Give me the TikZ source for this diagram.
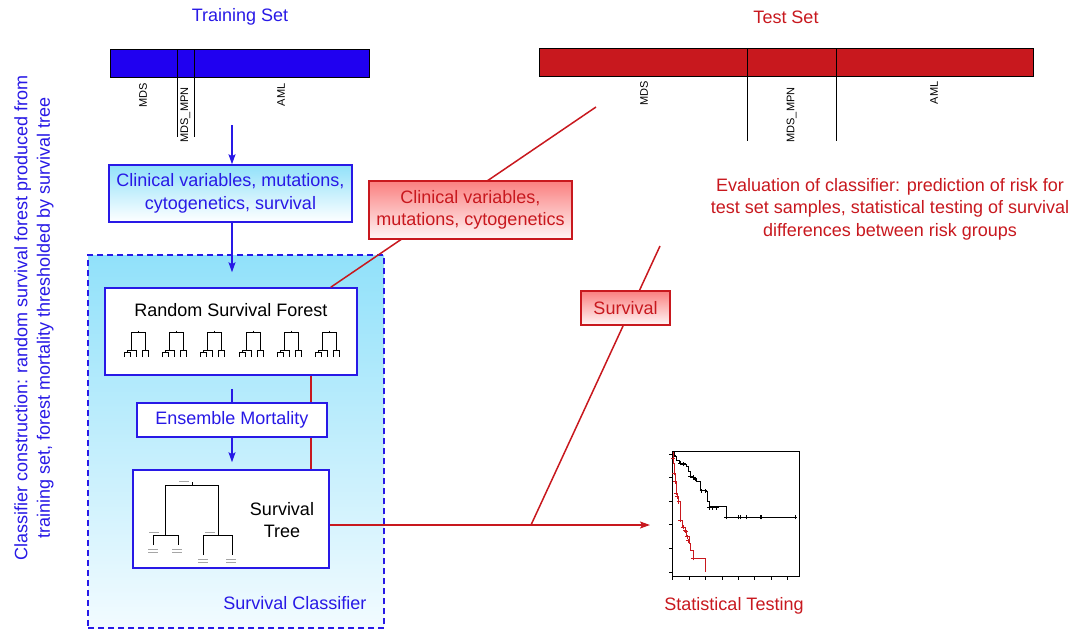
\documentclass[tikz,border=0pt]{standalone}
\usepackage{fontspec}
\setmainfont{Liberation Sans}
\usetikzlibrary{arrows.meta}

\definecolor{barblue}{RGB}{32,0,240}
\definecolor{txtblue}{RGB}{40,25,230}
\definecolor{testred}{RGB}{200,24,30}
\definecolor{skytop}{RGB}{145,225,250}
\definecolor{skybot}{RGB}{242,251,255}
\definecolor{pinktop}{RGB}{250,128,128}
\definecolor{pinkbot}{RGB}{255,246,246}

\tikzset{
  bigtext/.style={font=\fontsize{18}{22.5}\selectfont},
  barlabel/.style={font=\fontsize{11}{13}\selectfont, rotate=90},
  bluebox/.style={draw=txtblue, line width=1.5pt, inner sep=0pt, align=center, bigtext},
  redbox/.style={draw=testred, line width=1.4pt, inner sep=0pt, align=center, bigtext,
    top color=pinktop, bottom color=pinkbot, text=testred},
  bluearrow/.style={draw=txtblue, line width=1.5pt, -{Stealth[length=10pt,width=7pt,inset=2pt]}},
  redline/.style={draw=testred, line width=1.5pt},
  redarrow/.style={redline, -{Stealth[length=10pt,width=7pt,inset=2pt]}},
  minitree/.pic={
    \draw[line width=0.7pt] (0pt,1.5pt) -- (0pt,0pt);
    \draw[line width=0.7pt] (-7pt,-18pt) -- (-7pt,0pt) -- (7pt,0pt) -- (7pt,-18pt);
    \draw[line width=0.7pt] (-11pt,-20pt) -- (-11pt,-18pt) -- (-2pt,-18pt) -- (-2pt,-25pt);
    \draw[line width=0.7pt] (-14pt,-25pt) -- (-14pt,-20pt) -- (-8pt,-20pt) -- (-8pt,-25pt);
    \draw[line width=0.7pt] (4pt,-25pt) -- (4pt,-18pt) -- (10pt,-18pt) -- (10pt,-25pt);
  },
  censor/.style={line width=0.7pt}
}

\begin{document}
\begin{tikzpicture}
    \useasboundingbox (0pt,0pt) rectangle (1077pt,-629pt);

    % classifier frame
    \node[draw=txtblue, dashed, line width=1.4pt, dash pattern=on 6pt off 4pt,
          top color=skytop, bottom color=skybot,
          minimum width=296pt, minimum height=373pt] (classifier) at (236pt,-441.5pt) {};
    \node[bigtext, text=txtblue] (classlabel) at (295pt,-603pt) {Survival Classifier};

    % training set
    \node[bigtext, text=txtblue] (traintitle) at (240pt,-17pt) {Training Set};
    \node[draw=black, line width=0.8pt, fill=barblue, minimum width=259pt, minimum height=28pt] (trainbar) at (239.5pt,-63pt) {};
    \draw[line width=0.8pt] (177pt,-49pt) -- (177pt,-137pt);
    \draw[line width=0.8pt] (194pt,-49pt) -- (194pt,-137pt);
    \node[barlabel] (trainmds) at (143pt,-95pt) {MDS};
    \node[barlabel] (trainmpn) at (185.5pt,-115pt) {MDS\_MPN};
    \node[barlabel] (trainaml) at (281pt,-95pt) {AML};

    % test set
    \node[bigtext, text=testred] (testtitle) at (786pt,-17pt) {Test Set};
    \node[draw=black, line width=0.8pt, fill=testred, minimum width=494pt, minimum height=28pt] (testbar) at (786pt,-62pt) {};
    \draw[line width=0.8pt] (747pt,-48pt) -- (747pt,-141pt);
    \draw[line width=0.8pt] (836pt,-48pt) -- (836pt,-141pt);
    \node[barlabel] (testmds) at (644pt,-93pt) {MDS};
    \node[barlabel] (testmpn) at (791.5pt,-115pt) {MDS\_MPN};
    \node[barlabel] (testaml) at (934pt,-93pt) {AML};

    % training input
    \coordinate (trainout) at (232pt,-125pt);
    \node[bluebox, top color=skytop, bottom color=white, text=txtblue,
          minimum width=243pt, minimum height=57pt] (clin) at (230.5pt,-193.5pt)
          {Clinical variables, mutations,\\cytogenetics, survival};
    \draw[bluearrow] (trainout) -- (clin.north -| trainout);

    % forest and tree
    \node[bluebox, fill=white, minimum width=252pt, minimum height=87pt] (rsf) at (231pt,-331.5pt) {};
    \node[bigtext] (rsftext) at (231pt,-310pt) {Random Survival Forest};
    \foreach \tx in {138,176.3,214.6,252.9,291.2,329.5}
        \pic at (\tx pt,-332pt) {minitree};
    \draw[bluearrow, shorten >=15pt] (clin.south -| trainout) -- (rsf.north -| trainout);
    \node[bluebox, fill=white, minimum width=196pt, minimum height=98pt] (tree) at (231pt,-519pt) {};

    % red input lines (under the boxes)
    \coordinate (testout) at (596pt,-107pt);
    \draw[redline] (testout) -- ([xshift=-27pt]rsf.north east);
    \draw[redline] ([xshift=-47pt]rsf.south east) -- ([xshift=-47pt]rsf.south east |- tree.north);
    \node[redbox, minimum width=203pt, minimum height=58pt] (redclin) at (470.5pt,-210pt)
          {Clinical variables,\\mutations, cytogenetics};

    % ensemble mortality
    \node[bluebox, fill=white, text=txtblue, minimum width=190pt, minimum height=34pt] (ens) at (232pt,-420pt) {Ensemble Mortality};
    \draw[draw=txtblue, line width=1.5pt, shorten <=13pt] (rsf.south -| ens.north) -- (ens.north);
    \draw[bluearrow, shorten >=7pt] (ens.south) -- (ens.south |- tree.north);

    % survival tree contents
    \node[bigtext, align=center] (treetext) at (282pt,-520pt) {Survival\\Tree};
    \draw[line width=1pt] (192pt,-482pt) -- (192pt,-485pt);
    \draw[line width=1pt] (165pt,-535pt) -- (165pt,-485pt) -- (218pt,-485pt) -- (218pt,-535pt);
    \draw[line width=1pt] (153pt,-545pt) -- (153pt,-535pt) -- (178pt,-535pt) -- (178pt,-545pt);
    \draw[line width=1pt] (203pt,-555pt) -- (203pt,-535pt) -- (232pt,-535pt) -- (232pt,-555pt);
    \foreach \lx/\ly in {179/-481, 149/-532, 205/-532, 148/-549, 148/-552, 172/-549, 172/-552, 198/-559, 198/-562, 226/-559, 226/-562}
        \draw[gray!70, line width=0.6pt] (\lx pt,\ly pt) -- ++(10pt,0pt);

    % test evaluation
    \coordinate (kmin) at (650pt,-525pt);
    \coordinate (evalout) at (660pt,-246pt);
    \coordinate (join) at (531pt,-525pt);
    \draw[redarrow] ([yshift=-6pt]tree.east) -- (kmin);
    \draw[redline] (evalout) -- (join);
    \node[redbox, minimum width=89pt, minimum height=34pt] (surv) at (625.5pt,-308pt) {Survival};
    \node[bigtext, text=testred, align=center] (evaltext) at (890pt,-209pt)
          {Evaluation of classifier: prediction of risk for\\test set samples, statistical testing of survival\\differences between risk groups};

    % Kaplan-Meier plot
    \node[draw=black, line width=0.8pt, minimum width=126.3pt, minimum height=125pt, inner sep=0pt] (km) at (735.85pt,-514.2pt) {};
    \foreach \ty in {-454,-477.7,-501,-524.3,-548.3,-572}
        \draw[line width=0.7pt] (669pt,\ty pt) -- (672.7pt,\ty pt);
    \foreach \tx in {672.7,689.3,705.7,722,738.3,754.7,771,787.3}
        \draw[line width=0.7pt] (\tx pt,-576.7pt) -- (\tx pt,-580pt);
    \draw[line width=0.9pt] (672.7pt,-452.7pt) -| (674pt,-456pt) -| (676pt,-458.3pt) -| (676.7pt,-460.7pt)
        -| (679.3pt,-463.3pt) -| (685pt,-464pt) -| (686.7pt,-466.7pt) -| (688.3pt,-471.7pt)
        -| (690pt,-476pt) -| (693.3pt,-478.3pt) -| (696pt,-481.7pt) -| (700pt,-490pt)
        -| (706pt,-491.7pt) -| (707.3pt,-501.7pt) -| (709.3pt,-506.7pt) -| (726pt,-517.3pt) -- (795pt,-517.3pt);
    \foreach \cx/\cy in {674/-455, 680/-463.3, 683.3/-464, 690/-476, 693.3/-477.3, 695/-479.3, 701.7/-490.7, 705/-490.7,
                         709.3/-507.7, 712.7/-507.7, 716.7/-507.7, 726/-517.3, 738.3/-517.3, 740/-517.3, 746.7/-517.3,
                         760/-517.3, 761.7/-517.3, 795/-517.3}
        \draw[censor] (\cx pt,\cy pt) +(-2pt,0pt) -- +(2pt,0pt) +(0pt,-2pt) -- +(0pt,2pt);
    \draw[testred, line width=0.9pt] (672.7pt,-452.7pt) -| (673.3pt,-463.3pt) -| (674pt,-473.3pt) -| (675.3pt,-481.7pt)
        -| (676pt,-493.3pt) -| (677.3pt,-496.7pt) -| (678.3pt,-501.7pt) -| (680pt,-520pt) -| (682.7pt,-527.3pt)
        -| (685pt,-530.7pt) -| (686.7pt,-536.7pt) -| (689.3pt,-543.3pt) -| (690.7pt,-550pt) -| (693.3pt,-558.3pt)
        -- (705pt,-558.3pt) -- (705pt,-571.7pt);
    \foreach \cx/\cy in {673.3/-458.3, 674/-473.3, 675.3/-481.7, 676/-493.3, 677.3/-496.7, 678.7/-501.7, 680/-520,
                         683.3/-527.3, 685/-530.7, 686/-531.7, 687.3/-536.7, 688.3/-540.7, 693.3/-558.3}
        \draw[censor, testred] (\cx pt,\cy pt) +(-2pt,0pt) -- +(2pt,0pt) +(0pt,-2pt) -- +(0pt,2pt);
    \node[bigtext, text=testred] (kmlabel) at (734pt,-606pt) {Statistical Testing};

    % side note
    \node[bigtext, text=txtblue, align=center, rotate=90] (note) at (34pt,-318pt)
          {Classifier construction: random survival forest produced from\\training set, forest mortality thresholded by survival tree};
\end{tikzpicture}
\end{document}
